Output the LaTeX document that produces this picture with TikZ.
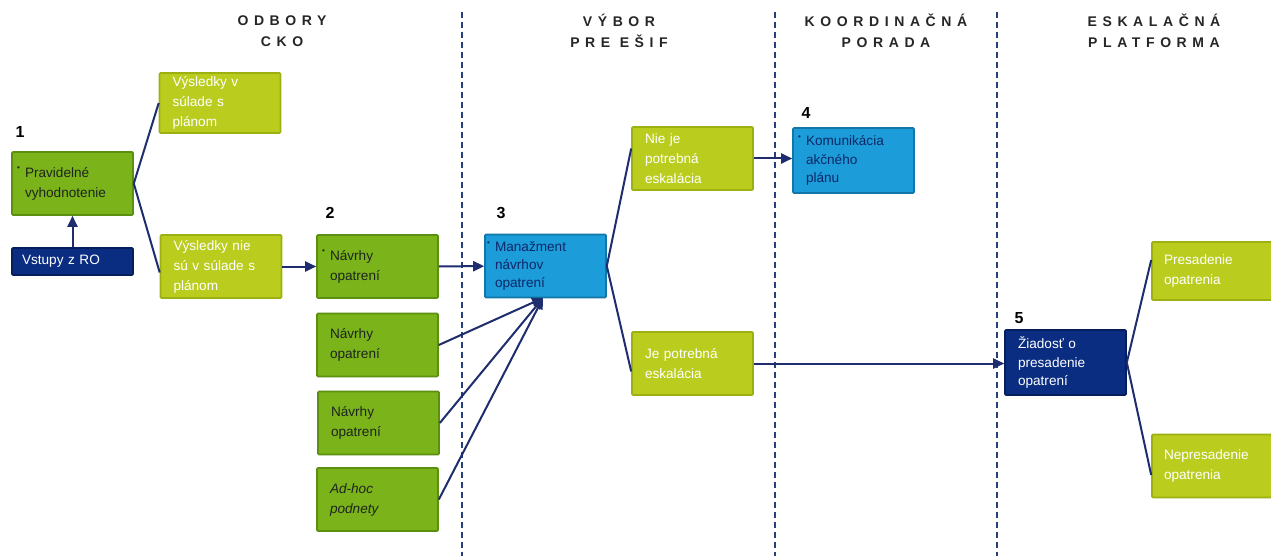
\documentclass[tikz,border=0pt]{standalone}
\usepackage{fontspec}
\setmainfont{Liberation Sans}
\newfontfamily\headfam{Liberation Sans}[LetterSpace=40]
\usetikzlibrary{arrows.meta}

\definecolor{dkgreen}{RGB}{122,180,26}
\definecolor{dkgreenb}{RGB}{92,142,16}
\definecolor{ltgreen}{RGB}{186,205,30}
\definecolor{ltgreenb}{RGB}{156,176,18}
\definecolor{skyblue}{RGB}{28,156,216}
\definecolor{skyblueb}{RGB}{18,118,168}
\definecolor{navy}{RGB}{10,45,130}
\definecolor{navyb}{RGB}{6,30,92}
\definecolor{navytext}{RGB}{14,40,105}
\definecolor{txtdark}{RGB}{30,36,30}
\definecolor{linecol}{RGB}{30,45,110}
\definecolor{lanecol}{RGB}{40,62,122}

\newcommand{\boxfont}{\fontsize{13.6}{20}\selectfont}
\newcommand{\numfont}{\fontsize{16}{16}\selectfont\bfseries}
\newcommand{\headfont}{\headfam\bfseries\fontsize{14}{21}\selectfont}
\newcommand{\bul}{\llap{\raisebox{0.9ex}{\fontsize{8}{8}\selectfont•}\hspace{5pt}}}

\tikzset{
  box/.style={minimum width=121pt, minimum height=63pt, inner xsep=13pt,
    inner ysep=3pt, text width=95pt, align=left, font=\boxfont,
    line width=1.6pt, rounded corners=1pt},
  dkg/.style={box, fill=dkgreen, draw=dkgreenb, text=txtdark},
  ltg/.style={box, fill=ltgreen, draw=ltgreenb, text=white},
  blu/.style={box, fill=skyblue, draw=skyblueb, text=navytext},
  nav/.style={box, fill=navy, draw=navyb, text=white},
  num/.style={font=\numfont, inner sep=0pt},
  head/.style={font=\headfont, align=center, text=black!85, inner sep=0pt},
  link/.style={draw=linecol, line width=2pt},
  arr/.style={link, -{Triangle[length=11pt,width=10pt]}},
  lane/.style={draw=lanecol, line width=1.7pt, dash pattern=on 6pt off 4pt}
}

\begin{document}
\begin{tikzpicture}[x=1pt,y=-1pt]
  \fill[white] (0,0) rectangle (1271,556);
  \useasboundingbox (0,0) rectangle (1271,556);

  % swim-lane separators
  \draw[lane] (462,12) -- (462,556);
  \draw[lane] (775,12) -- (775,556);
  \draw[lane] (997,12) -- (997,556);

  % lane headings
  \node[head] (h1) at (282,31) {ODBORY\\CKO};
  \node[head] (h2) at (619,31) {VÝBOR\\PRE EŠIF};
  \node[head] (h3) at (886,31) {KOORDINAČNÁ\\PORADA};
  \node[head] (h4) at (1154,31) {ESKALAČNÁ\\PLATFORMA};

  % step numbers
  \node[num] (n1) at (20,132) {1};
  \node[num] (n2) at (330,213) {2};
  \node[num] (n3) at (501,213) {3};
  \node[num] (n4) at (806,113) {4};
  \node[num] (n5) at (1019,318) {5};

  % ODBORY CKO
  \node[dkg] (b1) at (72.5,183.5) {\bul Pravidelné\\vyhodnotenie};
  \node[nav, minimum height=27pt, inner xsep=10pt, text width=101pt] (vst) at (72.5,261.5) {Vstupy z RO};
  \node[ltg, minimum height=60pt] (ok) at (220,103) {Výsledky v\\súlade s\\plánom};
  \node[ltg] (nok) at (221,266.5) {Výsledky nie\\sú v súlade s\\plánom};
  \node[dkg] (n2a) at (377.5,266.5) {\bul Návrhy\\opatrení};
  \node[dkg] (n2b) at (377.5,345) {Návrhy\\opatrení};
  \node[dkg] (n2c) at (378.5,423) {Návrhy\\opatrení};
  \node[dkg] (adh) at (377.5,499.5) {\itshape Ad-hoc\\podnety};

  % VÝBOR PRE EŠIF
  \node[blu, inner xsep=10pt, text width=101pt, font=\fontsize{13.6}{18}\selectfont] (b3) at (545.5,266) {\bul Manažment\\návrhov\\opatrení};
  \node[ltg] (nie) at (692.5,158.5) {Nie je\\potrebná\\eskalácia};
  \node[ltg] (je) at (692.5,363.5) {Je potrebná\\eskalácia};

  % KOORDINAČNÁ PORADA
  \node[blu, minimum height=65pt, font=\fontsize{13.6}{18.5}\selectfont] (b4) at (853.5,160.5) {\bul Komunikácia\\akčného\\plánu};

  % ESKALAČNÁ PLATFORMA
  \node[nav, minimum height=65pt, font=\fontsize{13.6}{18.5}\selectfont] (b5) at (1065.5,362.5) {Žiadosť o\\presadenie\\opatrení};
  \node[ltg, minimum height=58pt, inner xsep=12pt, text width=97pt] (pres) at (1212.5,271) {Presadenie\\opatrenia};
  \node[ltg, inner xsep=12pt, text width=97pt] (npres) at (1212.5,466) {Nepresadenie\\opatrenia};

  % connectors
  \coordinate (b3in) at (543,298);
  \draw[arr] (vst) -- (b1);
  \draw[link] (b1.east) -- (ok.west);
  \draw[link] (b1.east) -- ([yshift=-6pt]nok.west);
  \draw[arr] (nok) -- (n2a);
  \draw[arr] (n2a) -- (b3);
  \draw[arr] (n2b.east) -- (b3in);
  \draw[arr] (n2c.east) -- (b3in);
  \draw[arr] (adh.east) -- (b3in);
  \draw[link] (b3.east) -- ([yshift=10pt]nie.west);
  \draw[link] (b3.east) -- ([yshift=-8pt]je.west);
  \draw[arr] (nie) -- (nie -| b4.west);
  \draw[arr] (je.east) -- (je.east -| b5.west);
  \draw[link] (b5.east) -- ([yshift=11pt]pres.west);
  \draw[link] (b5.east) -- ([yshift=-9pt]npres.west);
\end{tikzpicture}
\end{document}
